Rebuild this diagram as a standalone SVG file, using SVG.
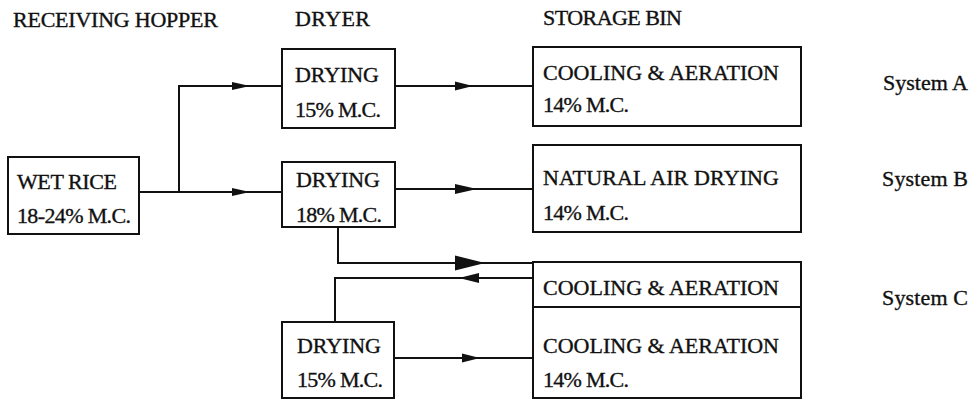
<svg xmlns="http://www.w3.org/2000/svg" width="974" height="399" viewBox="0 0 974 399">
<style>
text{font-family:"Liberation Serif","Times New Roman",serif;font-size:22px;fill:#111;stroke:#111;stroke-width:0.35}
.box{fill:#fff;stroke:#111;stroke-width:2}
.ln{fill:none;stroke:#111;stroke-width:2}
.ah{fill:#111}
</style>
<defs>
<path id="ah" d="M0,0 L-20,-5 L-20,5 Z"/>
</defs>
<rect width="974" height="399" fill="#fff"/>
<g id="headers">
<text x="13" y="27" textLength="205">RECEIVING HOPPER</text>
<text x="295" y="26" textLength="75">DRYER</text>
<text x="543" y="25" textLength="139">STORAGE BIN</text>
<text x="883" y="90" textLength="85">System A</text>
<text x="882" y="186" textLength="86">System B</text>
<text x="882" y="305" textLength="86">System C</text>
</g>
<g id="connectors">
<path class="ln" d="M139,192 H282"/>
<path class="ln" d="M179,192 V86 H282"/>
<path class="ln" d="M395,86 H533"/>
<path class="ln" d="M395,189 H533"/>
<path class="ln" d="M338,227 V263 H533"/>
<path class="ln" d="M533,278 H335 V322"/>
<path class="ln" d="M394,358 H533"/>
<use href="#ah" class="ah" transform="translate(250,192) scale(0.9,0.8)"/>
<use href="#ah" class="ah" transform="translate(250,86) scale(0.9,0.8)"/>
<use href="#ah" class="ah" transform="translate(473,86) scale(0.9,0.9)"/>
<use href="#ah" class="ah" transform="translate(477,189) scale(1.1,1)"/>
<use href="#ah" class="ah" transform="translate(485,263) scale(1.5,1.5)"/>
<use href="#ah" class="ah" transform="translate(459,278) scale(-1,1)"/>
<use href="#ah" class="ah" transform="translate(480,358) scale(0.9,0.9)"/>
</g>
<g id="wet-rice">
<rect class="box" x="8" y="157" width="131" height="77"/>
<text x="17" y="189" textLength="100">WET RICE</text>
<text x="17" y="223" textLength="114">18-24% M.C.</text>
</g>
<g id="dryer-a">
<rect class="box" x="282" y="49" width="113" height="79"/>
<text x="295" y="82" textLength="84">DRYING</text>
<text x="295" y="117" textLength="86">15% M.C.</text>
</g>
<g id="bin-a">
<rect class="box" x="533" y="47" width="268" height="79"/>
<text x="543" y="80" textLength="236">COOLING &amp; AERATION</text>
<text x="543" y="112" textLength="86">14% M.C.</text>
</g>
<g id="dryer-b">
<rect class="box" x="282" y="162" width="113" height="65"/>
<text x="296" y="187" textLength="84">DRYING</text>
<text x="296" y="222" textLength="86">18% M.C.</text>
</g>
<g id="bin-b">
<rect class="box" x="533" y="145" width="268" height="87"/>
<text x="543" y="185" textLength="236">NATURAL AIR DRYING</text>
<text x="543" y="220" textLength="86">14% M.C.</text>
</g>
<g id="bin-c">
<rect class="box" x="533" y="262" width="268" height="136"/>
<path class="ln" d="M533,307 H801"/>
<text x="543" y="295" textLength="236">COOLING &amp; AERATION</text>
<text x="543" y="353" textLength="236">COOLING &amp; AERATION</text>
<text x="543" y="387" textLength="86">14% M.C.</text>
</g>
<g id="dryer-c">
<rect class="box" x="282" y="322" width="112" height="76"/>
<text x="297" y="353" textLength="84">DRYING</text>
<text x="297" y="387" textLength="86">15% M.C.</text>
</g>
</svg>
